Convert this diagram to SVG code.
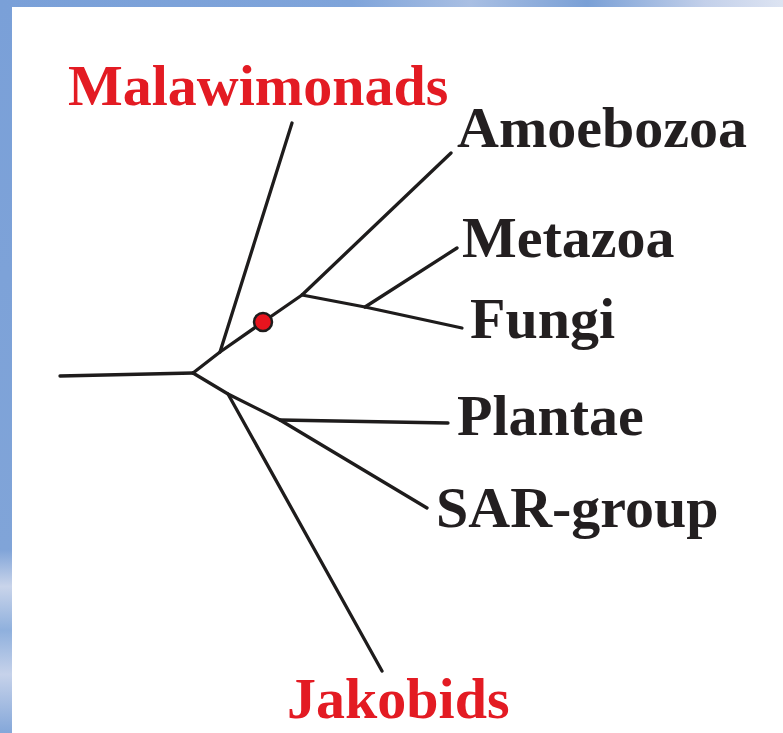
<svg xmlns="http://www.w3.org/2000/svg" width="783" height="733" viewBox="0 0 783 733">
<defs>
<linearGradient id="sky" x1="0" y1="0" x2="1" y2="0">
<stop offset="0" stop-color="#7aa0d8"/>
<stop offset="0.45" stop-color="#7fa4da"/>
<stop offset="0.6" stop-color="#a9bfe3"/>
<stop offset="0.75" stop-color="#7aa0d6"/>
<stop offset="0.9" stop-color="#c3d0ea"/>
<stop offset="1" stop-color="#dde4f2"/>
</linearGradient>
<linearGradient id="skyv" x1="0" y1="0" x2="0" y2="1">
<stop offset="0" stop-color="#7aa0d8"/>
<stop offset="0.75" stop-color="#80a4d8"/>
<stop offset="0.8" stop-color="#c9d4ea"/>
<stop offset="0.86" stop-color="#8fb0dd"/>
<stop offset="0.92" stop-color="#c6d2ea"/>
<stop offset="1" stop-color="#84a7d9"/>
</linearGradient>
</defs>
<style>
.br{stroke:#1e1c1c;stroke-width:3.3;fill:none;stroke-linecap:round;stroke-linejoin:round}
.lb{font-family:"Liberation Serif","Times New Roman",serif;font-weight:bold;font-size:58px;fill:#231f20}
.red{fill:#e31b23}
</style>
<rect x="0" y="0" width="783" height="733" fill="url(#skyv)"/>
<rect x="0" y="0" width="783" height="7" fill="url(#sky)"/>
<rect x="12" y="7" width="771" height="726" fill="#ffffff"/>
<g id="connectors">
<line class="br" x1="60" y1="376" x2="193" y2="373"/>
<polyline class="br" points="193,373 220,352 263,322 302,295 451,153"/>
<line class="br" x1="220" y1="352" x2="292" y2="123"/>
<polyline class="br" points="302,295 365,307 462,328"/>
<line class="br" x1="365" y1="307" x2="457" y2="248"/>
<polyline class="br" points="193,373 228,394 280,420 427,508"/>
<line class="br" x1="228" y1="394" x2="382" y2="671"/>
<line class="br" x1="280" y1="420" x2="448" y2="423"/>
</g>
<g id="node-dot"><circle cx="263" cy="322" r="9" fill="#e8141e" stroke="#1e1c1c" stroke-width="2.5"/></g>
<g id="node-malawimonads"><text class="lb red" x="68" y="105">Malawimonads</text></g>
<g id="node-amoebozoa"><text class="lb" x="457" y="147">Amoebozoa</text></g>
<g id="node-metazoa"><text class="lb" x="462" y="257">Metazoa</text></g>
<g id="node-fungi"><text class="lb" x="470" y="338">Fungi</text></g>
<g id="node-plantae"><text class="lb" x="457" y="435">Plantae</text></g>
<g id="node-sar"><text class="lb" x="436" y="527">SAR-group</text></g>
<g id="node-jakobids"><text class="lb red" x="287" y="718">Jakobids</text></g>
</svg>
